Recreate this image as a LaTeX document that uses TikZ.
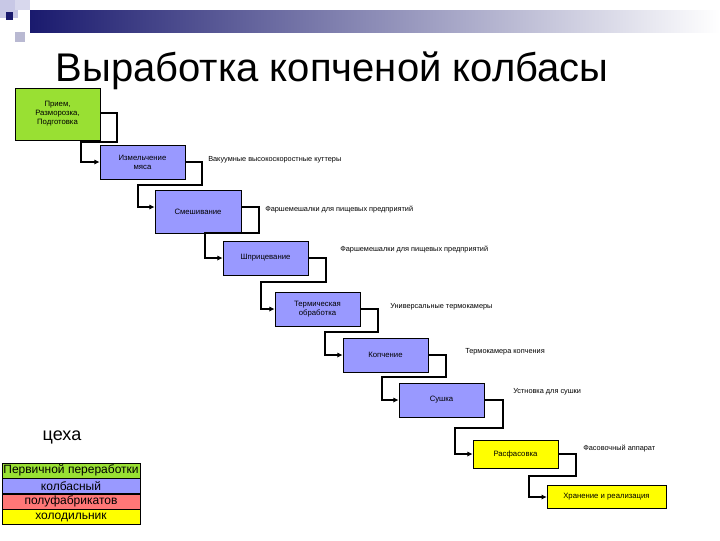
\documentclass[tikz,border=0pt]{standalone}
\usepackage{fontspec}
\setmainfont{Liberation Sans}
\usetikzlibrary{arrows.meta}
\definecolor{cgreen}{HTML}{99E033}
\definecolor{cblue}{HTML}{9999FF}
\definecolor{cred}{HTML}{FF7777}
\definecolor{cyel}{HTML}{FFFF00}
\definecolor{navy}{HTML}{1A1A6E}
\definecolor{lav}{HTML}{C8C8E6}
\begin{document}
\begin{tikzpicture}[x=0.75pt,y=-0.75pt,
  stepbox/.style={draw=black,line width=0.5pt,inner sep=0pt,align=center,font=\fontsize{5.8}{6.8}\selectfont},
  lbl/.style={anchor=west,inner sep=0pt,font=\fontsize{5.5}{6.5}\selectfont},
  conn/.style={line width=1.3pt,-{Latex[length=4pt,width=4pt]}},
  leg/.style={draw=black,line width=0.4pt,minimum width=103.5pt,minimum height=11.6pt,inner sep=0pt,outer sep=0pt,font=\fontsize{9}{10}\selectfont}]
\useasboundingbox (0,0) rectangle (720,540);
\fill[white] (0,0) rectangle (720,540);
% header decoration
\shade[left color=navy,right color=white] (30,10) rectangle (720,32);
\fill[lav] (0,0) rectangle (18,18);
\fill[lav!70] (15,0) rectangle (30,10);
\fill[lav!80!gray] (15,32) rectangle (25,42);
\fill[navy] (6,12) rectangle (13,20);
\node[font=\fontsize{30}{33}\selectfont,anchor=base] (title) at (332,81) {Выработка копченой колбасы};
% boxes
\node[stepbox,fill=cgreen,minimum width=63.75pt,minimum height=39pt] (b1) at (57.5,114) {Прием,\\Разморозка,\\Подготовка};
\node[stepbox,fill=cblue,minimum width=63.75pt,minimum height=25.5pt] (b2) at (142.5,162) {Измельчение\\мяса};
\node[stepbox,fill=cblue,minimum width=64.5pt,minimum height=32pt] (b3) at (198,211.5) {Смешивание};
\node[stepbox,fill=cblue,minimum width=63.75pt,minimum height=25.5pt] (b4) at (265.5,258) {Шприцевание};
\node[stepbox,fill=cblue,minimum width=63.75pt,minimum height=25.5pt] (b5) at (317.5,309) {Термическая\\обработка};
\node[stepbox,fill=cblue,minimum width=63.75pt,minimum height=25.5pt] (b6) at (385.5,355) {Копчение};
\node[stepbox,fill=cblue,minimum width=63.75pt,minimum height=25.5pt] (b7) at (441.5,400) {Сушка};
\node[stepbox,fill=cyel,minimum width=63.75pt,minimum height=21pt] (b8) at (515.5,454) {Расфасовка};
\node[stepbox,fill=cyel,minimum width=89pt,minimum height=17pt] (b9) at (606.5,496.5) {Хранение и реализация};
% connectors
\draw[conn] (b1.east |- 0,113) -| (117,142) -| (81,162) -- (b2.west |- 0,162);
\draw[conn] (b2.east) -| (202,185) -| (138,207) -- (b3.west |- 0,207);
\draw[conn] (b3.east |- 0,207) -| (259,233) -| (205,258) -- (b4.west);
\draw[conn] (b4.east) -| (326,282) -| (261,309) -- (b5.west);
\draw[conn] (b5.east) -| (378,332) -| (325,355) -- (b6.west);
\draw[conn] (b6.east) -| (446,377) -| (382,400) -- (b7.west);
\draw[conn] (b7.east) -| (503,428) -| (455,454) -- (b8.west);
\draw[conn] (b8.east) -| (576,476) -| (529,497) -- (b9.west |- 0,497);
% labels
\node[lbl] (l2) at (208,160) {Вакуумные высокоскоростные куттеры};
\node[lbl] (l3) at (265,210) {Фаршемешалки для пищевых предприятий};
\node[lbl] (l4) at (340,250) {Фаршемешалки для пищевых предприятий};
\node[lbl] (l5) at (390,307) {Универсальные термокамеры};
\node[lbl] (l6) at (465,352) {Термокамера копчения};
\node[lbl] (l7) at (513,392) {Устновка для сушки};
\node[lbl] (l8) at (583,449) {Фасовочный аппарат};
% legend
\node[font=\fontsize{13.5}{15}\selectfont] (ceh) at (62,437) {цеха};
\node[leg,fill=cgreen] (g1) at (71,470.5) {Первичной переработки};
\node[leg,fill=cblue] (g2) at (71,486) {колбасный};
\node[leg,fill=cred] (g3) at (71,501.5) {полуфабрикатов};
\node[leg,fill=cyel] (g4) at (71,517) {холодильник};
\end{tikzpicture}
\end{document}
